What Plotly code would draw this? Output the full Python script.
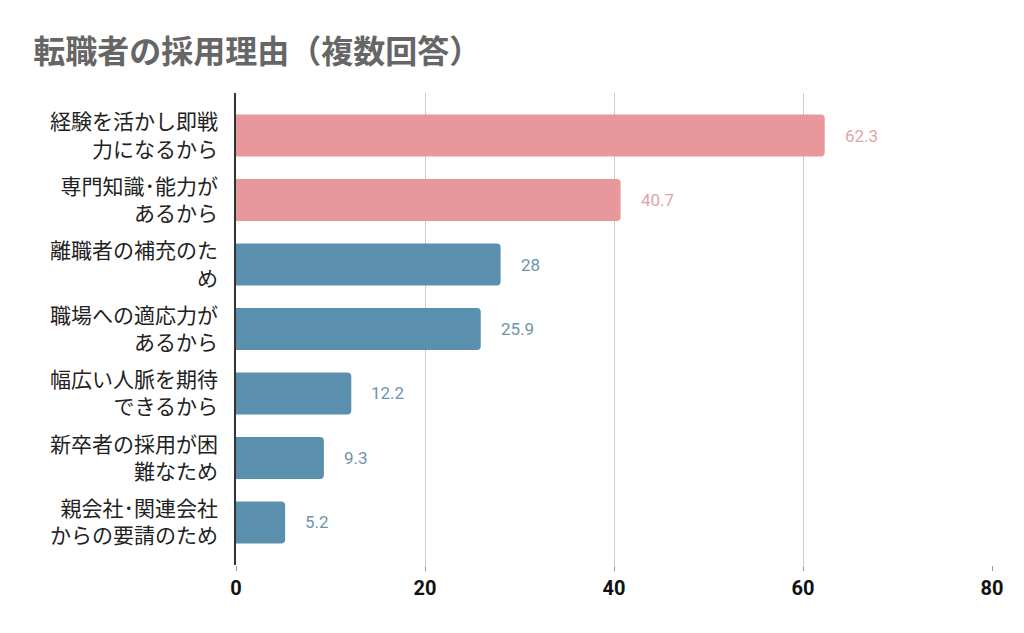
import plotly.graph_objects as go

# Categories (top to bottom) and values in %
reasons = [
    '経験を活かし即戦<br>力になるから',
    '専門知識･能力が<br>あるから',
    '離職者の補充のた<br>め',
    '職場への適応力が<br>あるから',
    '幅広い人脈を期待<br>できるから',
    '新卒者の採用が困<br>難なため',
    '親会社･関連会社<br>からの要請のため',
]
values = [62.3, 40.7, 28, 25.9, 12.2, 9.3, 5.2]
labels = ['62.3', '40.7', '28', '25.9', '12.2', '9.3', '5.2']

pink = '#E8979B'
blue = '#5A8FAD'
colors = [pink, pink, blue, blue, blue, blue, blue]
label_colors = ['#E0A5A8', '#E0A5A8', '#6C95AC', '#6C95AC', '#6C95AC', '#6C95AC', '#6C95AC']

fig = go.Figure(go.Bar(
    x=values,
    y=reasons,
    orientation='h',
    marker=dict(color=colors, line=dict(width=0)),
    width=0.65,
    hoverinfo='skip',
))

# value labels to the right of each bar
for v, r, t, c in zip(values, reasons, labels, label_colors):
    fig.add_annotation(x=v, y=r, text=t, showarrow=False, xanchor='left',
                       xshift=18, font=dict(size=17, color=c,
                                            family='Roboto, Noto Sans, sans-serif'))

fig.update_layout(
    width=1008, height=617,
    margin=dict(l=228, r=24, t=85, b=60),
    paper_bgcolor='white',
    plot_bgcolor='white',
    barcornerradius=4,
    showlegend=False,
    title=dict(
        text='<b>転職者の採用理由（複数回答）</b>',
        x=0.025, xanchor='left', y=0.929, yanchor='middle',
        font=dict(size=32, color='#666666', family='Noto Sans CJK JP'),
    ),
    xaxis=dict(
        range=[0, 80],
        tickvals=[0, 20, 40, 60, 80],
        showgrid=True, gridcolor='#CCCCCC', gridwidth=1,
        zeroline=False,
        ticks='outside', ticklen=5, tickcolor='#999999',
        tickfont=dict(size=20, color='#111111',
                      family='Liberation Sans Narrow, Arial Narrow, Roboto, sans-serif',
                      weight='bold'),
        showline=False,
    ),
    yaxis=dict(
        range=[6.66, -0.66],
        showgrid=False,
        showline=True, linecolor='#333333', linewidth=1.5,
        ticks='', ticklabelstandoff=12,
        tickfont=dict(size=21, color='#222222', family='Noto Sans CJK JP'),
    ),
)

fig.write_html("out.html")
